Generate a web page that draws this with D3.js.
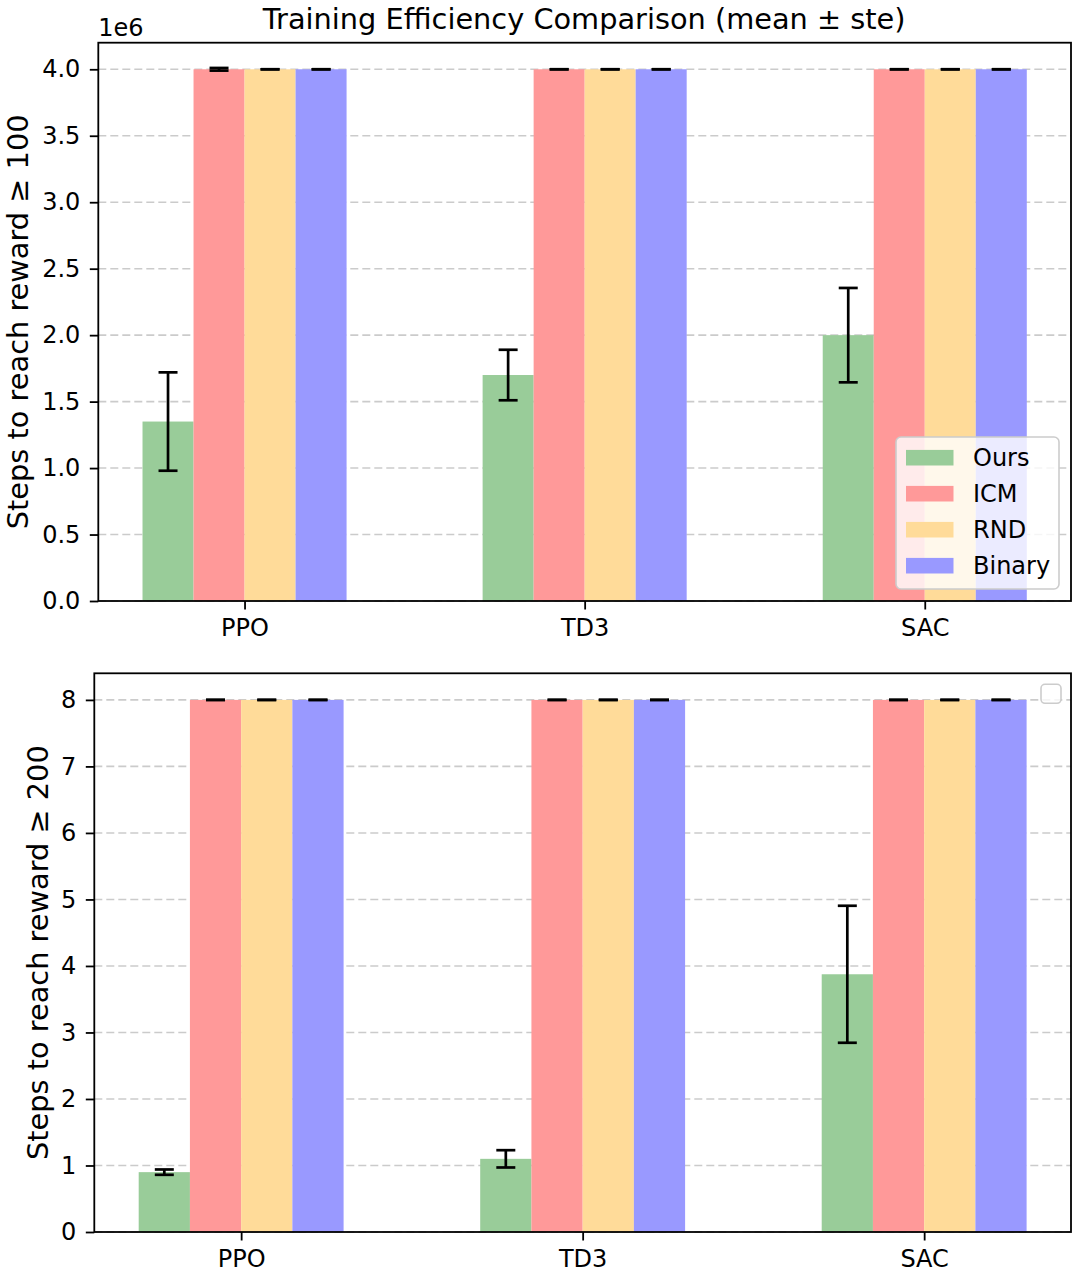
<!DOCTYPE html>
<html>
<head>
<meta charset="utf-8">
<script src="https://cdn.jsdelivr.net/npm/d3@7"></script>
<style>
  html, body { margin: 0; padding: 0; background: #fff; }
  svg { display: block; font-family: "DejaVu Sans", sans-serif; }
</style>
</head>
<body>
<svg id="chart" width="1081" height="1272"></svg>
<script>
// ---------------- data ----------------
const categories = ["PPO", "TD3", "SAC"];
const methods = ["Ours", "ICM", "RND", "Binary"];
const methodColors = ["#99cc99", "#ff9999", "#ffdb99", "#9999ff"];

// Panel 1: steps to reach reward >= 100
const ours100 = [1.35e6, 1.70e6, 2.00e6];
const ours100Err = [0.37e6, 0.19e6, 0.355e6];
const icm100 = [4.0e6, 4.0e6, 4.0e6];
const icm100Err = [0.01e6, 0, 0];
const rnd100 = [4.0e6, 4.0e6, 4.0e6];
const rnd100Err = [0, 0, 0];
const binary100 = [4.0e6, 4.0e6, 4.0e6];
const binary100Err = [0, 0, 0];
const yTicks100 = [0, 0.5e6, 1.0e6, 1.5e6, 2.0e6, 2.5e6, 3.0e6, 3.5e6, 4.0e6];

// Panel 2: steps to reach reward >= 200
const ours200 = [0.9, 1.1, 3.875];
const ours200Err = [0.04, 0.13, 1.03];
const icm200 = [8, 8, 8];
const icm200Err = [0, 0, 0];
const rnd200 = [8, 8, 8];
const rnd200Err = [0, 0, 0];
const binary200 = [8, 8, 8];
const binary200Err = [0, 0, 0];
const yTicks200 = [0, 1, 2, 3, 4, 5, 6, 7, 8];

const titleText = "Training Efficiency Comparison (mean \u00b1 ste)";

// ---------------- drawing ----------------
const svg = d3.select("#chart");
const FONT = 24;
const barWidth = 0.15;

function drawPanel(cfg) {
  const { left, right, top, bottom } = cfg.box;
  const x = d3.scaleLinear().domain([-0.43, 2.43]).range([left, right]);
  const y = d3.scaleLinear().domain([0, cfg.ymax]).range([bottom, top]);
  const g = svg.append("g");

  // grid
  g.append("g").selectAll("line").data(cfg.yTicks).join("line")
    .attr("x1", left).attr("x2", right)
    .attr("y1", d => y(d)).attr("y2", d => y(d))
    .attr("stroke", "#cbcbcb").attr("stroke-width", 1.6)
    .attr("stroke-dasharray", "8,4");

  // bars
  const series = cfg.series;
  series.forEach((s, si) => {
    const off = (si - 1.5) * barWidth;
    g.append("g").selectAll("rect").data(s.values).join("rect")
      .attr("x", (d, i) => x(i + off - barWidth / 2))
      .attr("width", x(barWidth) - x(0))
      .attr("y", d => y(d))
      .attr("height", d => y(0) - y(d))
      .attr("fill", methodColors[si]);
  });
  // error bars
  series.forEach((s, si) => {
    const off = (si - 1.5) * barWidth;
    const eg = g.append("g");
    s.values.forEach((v, i) => {
      const cx = x(i + off);
      const e = s.err[i];
      eg.append("line").attr("x1", cx).attr("x2", cx)
        .attr("y1", y(v - e)).attr("y2", y(v + e))
        .attr("stroke", "#000").attr("stroke-width", 2.7);
      [v - e, v + e].forEach(c => {
        eg.append("line").attr("x1", cx - 9.5).attr("x2", cx + 9.5)
          .attr("y1", y(c)).attr("y2", y(c))
          .attr("stroke", "#000").attr("stroke-width", 2.7);
      });
    });
  });

  // axes
  const yAxis = d3.axisLeft(y).tickValues(cfg.yTicks).tickFormat(cfg.fmt)
    .tickSize(8.5).tickPadding(9.5);
  const ya = g.append("g").attr("transform", `translate(${left},0)`).call(yAxis);
  const xAxis = d3.axisBottom(x).tickValues([0, 1, 2]).tickFormat(i => categories[i])
    .tickSize(8.5).tickPadding(9.5);
  const xa = g.append("g").attr("transform", `translate(0,${bottom})`).call(xAxis);
  [ya, xa].forEach(a => {
    a.select(".domain").remove();
    a.selectAll(".tick line").attr("stroke", "#000").attr("stroke-width", 1.8);
    a.selectAll(".tick text").attr("fill", "#000")
      .style("font-size", FONT + "px").style("font-family", "DejaVu Sans");
  });

  // spines
  g.append("rect").attr("x", left).attr("y", top)
    .attr("width", right - left).attr("height", bottom - top)
    .attr("fill", "none").attr("stroke", "#000").attr("stroke-width", 1.8);

  // y label
  g.append("text")
    .attr("transform", `translate(${cfg.ylabelX},${(top + bottom) / 2}) rotate(-90)`)
    .attr("text-anchor", "middle").attr("dominant-baseline", "central")
    .style("font-size", "28.8px").text(cfg.ylabel);

  return { g, x, y, left, right, top, bottom };
}

const p1 = drawPanel({
  box: { left: 98.3, right: 1071, top: 42.7, bottom: 601 },
  ymax: 4.2e6, yTicks: yTicks100, fmt: d => (d / 1e6).toFixed(1),
  ylabel: "Steps to reach reward \u2265 100", ylabelX: 18,
  series: [
    { values: ours100, err: ours100Err },
    { values: icm100, err: icm100Err },
    { values: rnd100, err: rnd100Err },
    { values: binary100, err: binary100Err }
  ]
});

const p2 = drawPanel({
  box: { left: 94.3, right: 1071, top: 673.3, bottom: 1232 },
  ymax: 8.4, yTicks: yTicks200, fmt: d3.format("d"),
  ylabel: "Steps to reach reward \u2265 200", ylabelX: 38,
  series: [
    { values: ours200, err: ours200Err },
    { values: icm200, err: icm200Err },
    { values: rnd200, err: rnd200Err },
    { values: binary200, err: binary200Err }
  ]
});

// offset text and title
svg.append("text").attr("x", p1.left).attr("y", 35.5)
  .style("font-size", FONT + "px").text("1e6");
svg.append("text").attr("x", (p1.left + p1.right) / 2 - 0.5).attr("y", 29)
  .attr("text-anchor", "middle").style("font-size", "28.8px").text(titleText);

// legend panel 1
(function () {
  const lw = 163, lh = 152;
  const lx = p1.right - 12 - lw, ly = p1.bottom - 12 - lh;
  const lg = svg.append("g");
  lg.append("rect").attr("x", lx).attr("y", ly).attr("width", lw).attr("height", lh)
    .attr("rx", 5).attr("fill", "#fff").attr("fill-opacity", 0.8)
    .attr("stroke", "#cccccc").attr("stroke-width", 1.6);
  const rowY = d => ly + 20.7 + d * 36;
  lg.selectAll("rect.h").data(methods).join("rect").attr("class", "h")
    .attr("x", lx + 10).attr("width", 47.5)
    .attr("y", (d, i) => rowY(i) - 7.8).attr("height", 15.6)
    .attr("fill", (d, i) => methodColors[i]);
  lg.selectAll("text").data(methods).join("text")
    .attr("x", lx + 77).attr("y", (d, i) => rowY(i))
    .attr("dominant-baseline", "central")
    .style("font-size", FONT + "px").text(d => d);
})();

// empty legend panel 2
svg.append("rect").attr("x", p2.right - 10 - 20).attr("y", p2.top + 11)
  .attr("width", 20).attr("height", 19).attr("rx", 4)
  .attr("fill", "#fff").attr("fill-opacity", 0.8)
  .attr("stroke", "#cccccc").attr("stroke-width", 1.6);
</script>
</body>
</html>
